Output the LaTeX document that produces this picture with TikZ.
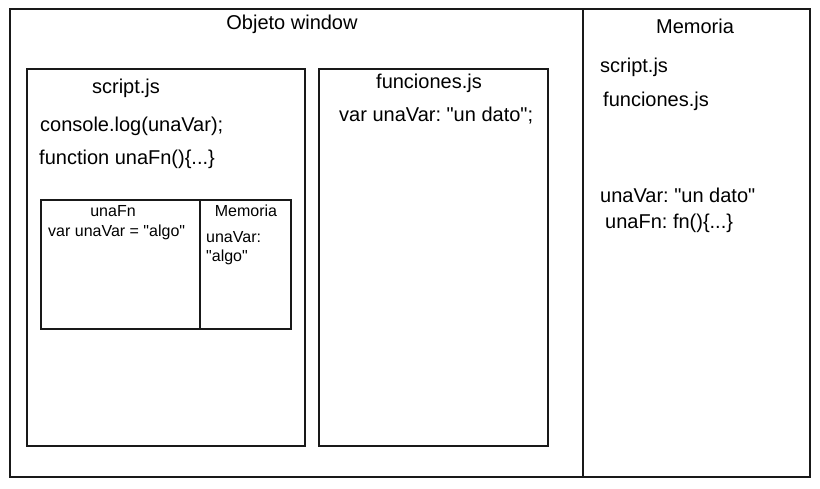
\documentclass[tikz,border=0pt]{standalone}
\usepackage{fontspec}
\setmainfont{Liberation Sans}
\newcommand{\dq}{\textquotedbl}
\frenchspacing
\begin{document}
\begin{tikzpicture}[x=1pt,y=-1pt,
  box/.style={draw=black!90, line width=1.1pt, anchor=north west, inner sep=0pt, outer sep=0pt},
  big/.style={font=\fontsize{20}{23}\selectfont, inner sep=0pt},
  small/.style={font=\fontsize{16}{19}\selectfont, inner sep=0pt, align=left}]
\useasboundingbox (0,0) rectangle (820,488);
% outer boxes
\node[box, minimum width=573pt, minimum height=468pt] (win) at (10,9) {};
\node[box, minimum width=227pt, minimum height=468pt] (mem) at (583,9) {};
% file boxes
\node[box, minimum width=278pt, minimum height=377pt] (scr) at (27,69) {};
\node[box, minimum width=229pt, minimum height=377pt] (fun) at (319,69) {};
% inner function box
\node[box, minimum width=159pt, minimum height=129pt] (fnb) at (41,200) {};
\node[box, minimum width=91pt, minimum height=129pt] (fnm) at (200,200) {};
% labels
\node[big] (twin) at (292,24) {Objeto window};
\node[big] (tmem) at (695,26) {Memoria};
\node[big] (tscr) at (126,88) {script.js};
\node[big, anchor=west] (clog) at (40,126) {console.log(unaVar);};
\node[big, anchor=west] (fdef) at (39,159) {function unaFn()\{...\}};
\node[small] (tfn) at (113,211) {unaFn};
\node[small, anchor=west] (vdef) at (48,232) {var unaVar = \dq algo\dq};
\node[small] (tfm) at (246,211) {Memoria};
\node[small, anchor=north west] (mval) at (206,231) {unaVar:\\[0pt]\dq algo\dq};
\node[big] (tfun) at (429,83) {funciones.js};
\node[big, anchor=west] (vdat) at (339,116) {var unaVar: \dq un dato\dq;};
\node[big, anchor=west] (m1) at (600,67) {script.js};
\node[big, anchor=west] (m2) at (603,101) {funciones.js};
\node[big, anchor=west] (m3) at (600,195) {unaVar: \dq un dato\dq};
\node[big, anchor=west] (m4) at (605,223) {unaFn: fn()\{...\}};
\end{tikzpicture}
\end{document}
